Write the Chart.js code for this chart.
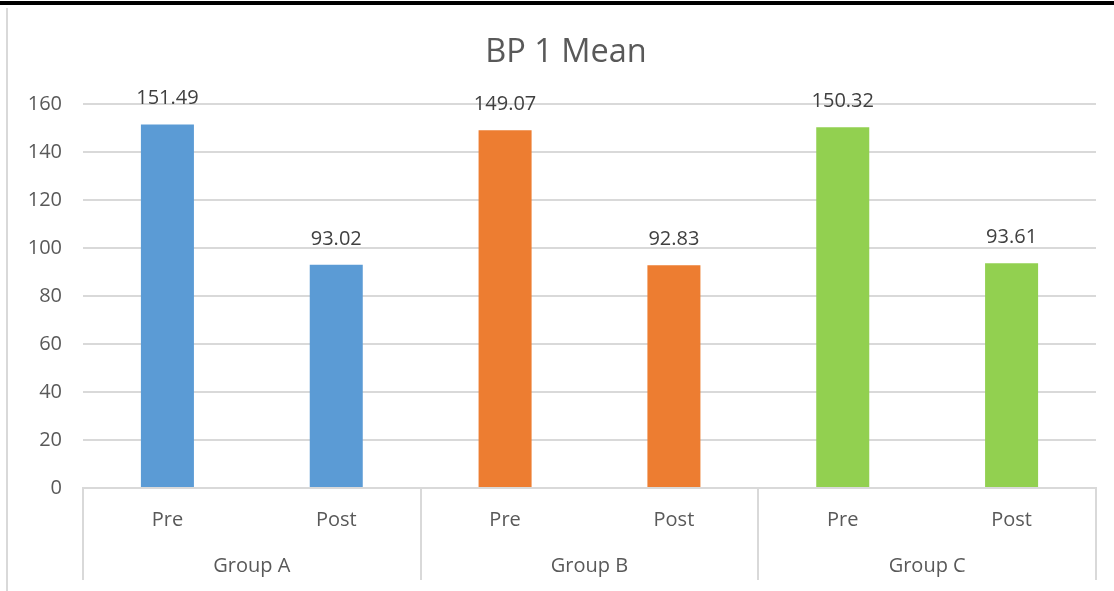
<!DOCTYPE html>
<html>
<head>
<meta charset="utf-8">
<title>BP 1 Mean</title>
<script src="https://cdn.jsdelivr.net/npm/chart.js@4.4.1/dist/chart.umd.min.js"></script>
<style>
  html, body { margin: 0; padding: 0; background: #fff; }
  #frame {
    position: relative;
    width: 1114px;
    height: 591px;
    overflow: hidden;
  }
  #frame::before {
    content: "";
    position: absolute;
    left: 0; top: 1px; right: 0;
    height: 4px;
    background: #000;
  }
  #frame::after {
    content: "";
    position: absolute;
    left: 6px; top: 8px; bottom: 0;
    width: 2px;
    background: #d9d9d9;
  }
  canvas { position: absolute; left: 0; top: 0; }
</style>
</head>
<body>
<div id="frame"><canvas id="chart" width="1114" height="591"></canvas></div>
<script>
// Chart data
const chartTitle = 'BP 1 Mean';
const groups = ['Group A', 'Group B', 'Group C'];
const phases = ['Pre', 'Post'];
const bpMeans = [151.49, 93.02, 149.07, 92.83, 150.32, 93.61];
const groupColors = ['#5B9BD5', '#ED7D31', '#92D050'];
const yTicks = [0, 20, 40, 60, 80, 100, 120, 140, 160];

const FONT = "'Open Sans', 'DejaVu Sans', sans-serif";
const AXIS_GREY = '#d9d9d9';
const TEXT_GREY = '#595959';

// One category per bar: Pre/Post repeated for each group
const labels = [];
const barColors = [];
groups.forEach((g, gi) => {
  phases.forEach(p => {
    labels.push(p);
    barColors.push(groupColors[gi]);
  });
});

// Title centred over the framed chart box (which includes the left margin)
const boxTitle = {
  id: 'boxTitle',
  afterDraw(chart) {
    const ctx = chart.ctx;
    ctx.save();
    ctx.font = `32.5px ${FONT}`;
    ctx.fillStyle = TEXT_GREY;
    ctx.textAlign = 'center';
    ctx.textBaseline = 'middle';
    ctx.fillText(chartTitle, chart.width / 2 + 9, 53);
    ctx.restore();
  }
};

// Writes each bar's value just above it
const valueLabels = {
  id: 'valueLabels',
  afterDatasetsDraw(chart) {
    const ctx = chart.ctx;
    const meta = chart.getDatasetMeta(0);
    ctx.save();
    ctx.font = `20px ${FONT}`;
    ctx.fillStyle = '#404040';
    ctx.textAlign = 'center';
    ctx.textBaseline = 'alphabetic';
    meta.data.forEach((bar, i) => {
      ctx.fillText(bpMeans[i].toFixed(2), bar.x, bar.y - 20);
    });
    ctx.restore();
  }
};

// Vertical dividers between the groups on the two-level category axis
const groupDividers = {
  id: 'groupDividers',
  afterDraw(chart) {
    const gs = chart.scales.xGroup;
    const top = chart.chartArea.bottom;
    const bottom = gs.bottom;
    const step = (gs.right - gs.left) / groups.length;
    const ctx = chart.ctx;
    ctx.save();
    ctx.strokeStyle = AXIS_GREY;
    ctx.lineWidth = 2;
    for (let i = 0; i <= groups.length; i++) {
      const x = Math.round(gs.left + i * step);
      ctx.beginPath();
      ctx.moveTo(x, top);
      ctx.lineTo(x, bottom);
      ctx.stroke();
    }
    ctx.restore();
  }
};

new Chart(document.getElementById('chart'), {
  type: 'bar',
  data: {
    labels: labels,
    datasets: [{
      data: bpMeans,
      backgroundColor: barColors,
      borderWidth: 0,
      categoryPercentage: 0.314,
      barPercentage: 1.0,
      xAxisID: 'x',
      yAxisID: 'y'
    }]
  },
  options: {
    responsive: false,
    animation: false,
    devicePixelRatio: 1,
    layout: { padding: { left: 0, right: 18, top: 104, bottom: 11 } },
    plugins: {
      legend: { display: false },
      tooltip: { enabled: false },
      title: { display: false }
    },
    scales: {
      y: {
        min: 0,
        max: 160,
        afterBuildTicks(scale) {
          scale.ticks = yTicks.map(v => ({ value: v }));
        },
        afterFit(scale) { scale.width = 83; },
        border: { display: false },
        grid: { color: AXIS_GREY, lineWidth: 2, drawTicks: false },
        ticks: {
          color: TEXT_GREY,
          padding: 21,
          font: { family: FONT, size: 20 }
        }
      },
      x: {
        position: 'bottom',
        afterFit(scale) { scale.height = 52; },
        grid: { display: false, drawTicks: false },
        border: { display: true, color: AXIS_GREY, width: 2 },
        ticks: {
          color: TEXT_GREY,
          padding: 20,
          maxRotation: 0,
          autoSkip: false,
          font: { family: FONT, size: 20 }
        }
      },
      xGroup: {
        type: 'category',
        position: 'bottom',
        labels: groups,
        offset: true,
        afterFit(scale) { scale.height = 40; },
        grid: { display: false, drawTicks: false },
        border: { display: false },
        ticks: {
          color: TEXT_GREY,
          padding: 14,
          maxRotation: 0,
          autoSkip: false,
          font: { family: FONT, size: 20 }
        }
      }
    }
  },
  plugins: [valueLabels, groupDividers, boxTitle]
});
</script>
</body>
</html>
